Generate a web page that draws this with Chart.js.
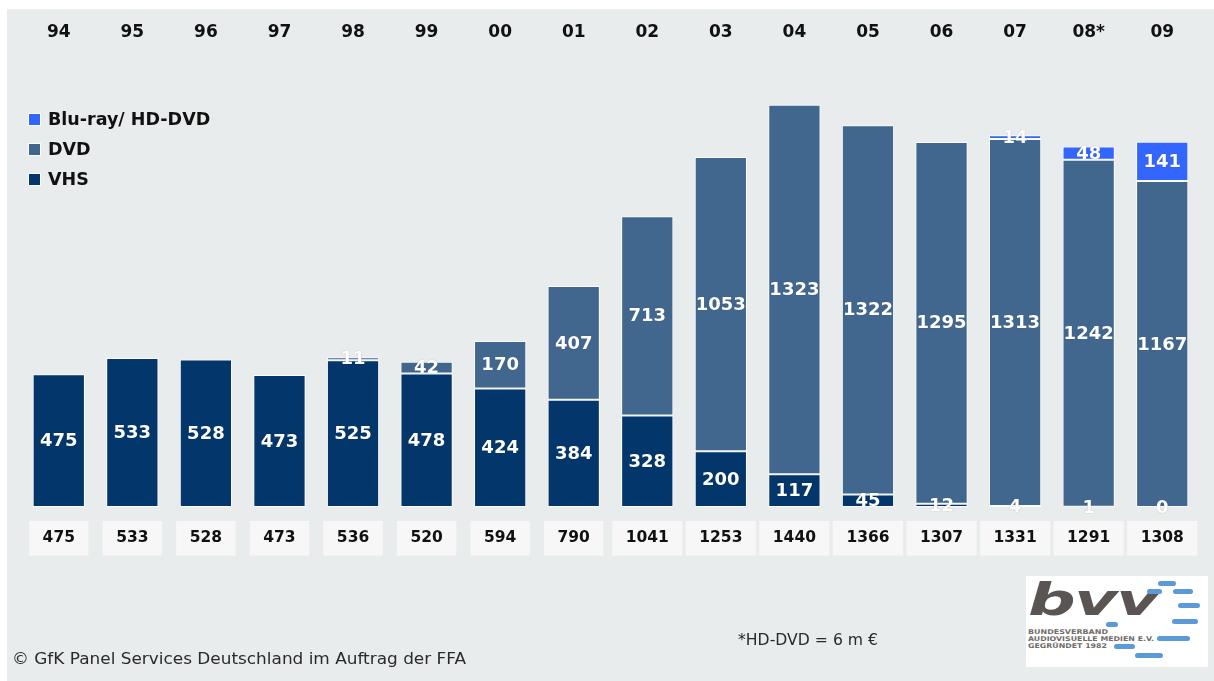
<!DOCTYPE html>
<html>
<head>
<meta charset="utf-8">
<script src="https://cdn.jsdelivr.net/npm/chart.js@4/dist/chart.umd.min.js"></script>
<style>
  html, body { margin: 0; padding: 0; background: #ffffff; width: 1214px; height: 681px; overflow: hidden; }
  #panel { position: absolute; left: 7px; top: 9px; width: 1207px; height: 672px; background: #e9eced; }
  #c { position: absolute; left: 0; top: 0; }
  .note { position: absolute; white-space: nowrap; color: #2a2a2a; font-family: "DejaVu Sans", sans-serif; transform-origin: 0 50%; }
  #logo { position: absolute; left: 1026px; top: 576px; width: 182px; height: 91px; background: #ffffff; overflow: hidden; }
  #logo .bvv { position: absolute; left: 2px; top: 1px; font-family: "DejaVu Sans", sans-serif; font-weight: bold; font-style: italic; font-size: 45px; line-height: 45px; color: #5a5452; transform: scaleX(1.48); transform-origin: 0 0; letter-spacing: -1px; }
  #logo .small { position: absolute; left: 2px; font-family: "DejaVu Sans", sans-serif; font-weight: bold; font-size: 6.5px; line-height: 7px; color: #716b69; transform-origin: 0 0; white-space: nowrap; }
  #logo .dash { position: absolute; height: 5px; border-radius: 3px; background: #5b9ad8; }
</style>
</head>
<body>
<div id="panel"><canvas id="c" width="1207" height="672"></canvas></div>

<div class="note" id="n1" style="left:738px; top:631px; font-size:15px;">*HD-DVD = 6 m €</div>
<div class="note" id="n2" style="left:12px; top:649px; font-size:16px;">© GfK Panel Services Deutschland im Auftrag der FFA</div>

<div id="logo">
  <div class="bvv">bvv</div>
  <div class="small" id="s1" style="top:53px;">BUNDESVERBAND</div>
  <div class="small" id="s2" style="top:60px;">AUDIOVISUELLE MEDIEN E.V.</div>
  <div class="small" id="s3" style="top:67px;">GEGRÜNDET 1982</div>
  <div class="dash" style="left:132px; top:5px; width:18px;"></div>
  <div class="dash" style="left:121px; top:13px; width:15px;"></div>
  <div class="dash" style="left:147px; top:13px; width:20px;"></div>
  <div class="dash" style="left:152px; top:27px; width:22px;"></div>
  <div class="dash" style="left:146px; top:43px; width:26px;"></div>
  <div class="dash" style="left:80px; top:46px; width:12px;"></div>
  <div class="dash" style="left:131px; top:60px; width:33px;"></div>
  <div class="dash" style="left:88px; top:68px; width:21px;"></div>
  <div class="dash" style="left:109px; top:77px; width:28px;"></div>
</div>

<script>
// ---- data ----
const years  = ['94','95','96','97','98','99','00','01','02','03','04','05','06','07','08*','09'];
const vhs    = [475, 533, 528, 473, 525, 478, 424, 384, 328, 200, 117, 45, 12, 4, 1, 0];
const dvd    = [null, null, null, null, 11, 42, 170, 407, 713, 1053, 1323, 1322, 1295, 1313, 1242, 1167];
const bluray = [null, null, null, null, null, null, null, null, null, null, null, null, null, 14, 48, 141];
const totals = [475, 533, 528, 473, 536, 520, 594, 790, 1041, 1253, 1440, 1366, 1307, 1331, 1291, 1308];
const seriesNames = ['VHS', 'DVD', 'Blu-ray/ HD-DVD'];
const seriesColors = ['#03366a', '#42678f', '#3366ff'];

const FONT = '"DejaVu Sans", sans-serif';

const segLabels = {
  id: 'segLabels',
  afterDatasetsDraw(chart) {
    const ctx = chart.ctx;
    ctx.save();
    ctx.font = 'bold 18px ' + FONT;
    ctx.fillStyle = '#ffffff';
    ctx.textAlign = 'center';
    ctx.textBaseline = 'middle';
    ctx.shadowColor = 'rgba(0,0,0,0.35)';
    ctx.shadowBlur = 1;
    chart.data.datasets.forEach((ds, i) => {
      const meta = chart.getDatasetMeta(i);
      meta.data.forEach((el, j) => {
        const v = ds.data[j];
        if (v === null || v === undefined) return;
        const p = el.getProps(['x', 'y', 'base'], true);
        ctx.fillText(String(v), p.x, (p.y + p.base) / 2 + 1);
      });
    });
    ctx.restore();
  }
};

const sideLegend = {
  id: 'sideLegend',
  afterDraw(chart) {
    const ctx = chart.ctx;
    ctx.save();
    ctx.font = 'bold 17.5px ' + FONT;
    ctx.textAlign = 'left';
    ctx.textBaseline = 'middle';
    const items = chart.data.datasets.slice().reverse();
    items.forEach((ds, k) => {
      const cy = 111 + k * 30;
      ctx.fillStyle = '#ffffff';
      ctx.fillRect(21, cy - 7, 13, 13);
      ctx.fillStyle = ds.backgroundColor;
      ctx.fillRect(22, cy - 6, 11, 11);
      ctx.fillStyle = '#111111';
      ctx.fillText(ds.label, 41, cy);
    });
    ctx.restore();
  }
};

const datasets = [vhs, dvd, bluray].map((d, i) => ({
  label: seriesNames[i],
  data: d,
  backgroundColor: seriesColors[i],
  borderColor: 'rgba(255,255,255,0.9)',
  borderWidth: 1,
  borderSkipped: false,
  barPercentage: 0.71,
  categoryPercentage: 1.0,
  xAxisID: 'x',
  yAxisID: 'y'
}));

function noSidePad(s, h) {
  s.height = h;
  s.paddingLeft = 0;
  s.paddingRight = 0;
}

new Chart(document.getElementById('c'), {
  type: 'bar',
  data: { labels: years, datasets },
  options: {
    responsive: false,
    devicePixelRatio: 1,
    animation: false,
    layout: { padding: { left: 15, right: 15, top: 0, bottom: 0 } },
    plugins: { legend: { display: false }, tooltip: { enabled: false } },
    scales: {
      x: {
        type: 'category',
        position: 'bottom',
        stacked: true,
        offset: true,
        grid: { display: false, drawTicks: false },
        border: { display: false },
        afterFit: (s) => noSidePad(s, 174),
        ticks: {
          padding: 22,
          color: '#111111',
          font: { family: FONT, size: 15.5, weight: 'bold' },
          maxRotation: 0,
          autoSkip: false,
          showLabelBackdrop: true,
          backdropColor: '#f7f7f7',
          backdropPadding: { top: 8, bottom: 8, left: 13.5, right: 13.5 },
          callback: (v, i) => String(totals[i])
        }
      },
      xTop: {
        type: 'category',
        position: 'top',
        labels: years,
        offset: true,
        grid: { display: false, drawTicks: false },
        border: { display: false },
        afterFit: (s) => noSidePad(s, 79),
        ticks: {
          padding: 45,
          color: '#111111',
          font: { family: FONT, size: 17, weight: 'bold' },
          maxRotation: 0,
          autoSkip: false
        }
      },
      y: {
        type: 'linear',
        stacked: true,
        display: false,
        min: 0,
        max: 1500
      }
    }
  },
  plugins: [segLabels, sideLegend]
});

// fit text widths to the reference
function fitWidth(id, target) {
  const el = document.getElementById(id);
  const w = el.getBoundingClientRect().width;
  if (w > 0) el.style.transform = 'scaleX(' + (target / w) + ')';
}
fitWidth('n1', 140);
fitWidth('n2', 454);
fitWidth('s1', 80);
fitWidth('s2', 126);
fitWidth('s3', 79);
</script>
</body>
</html>
